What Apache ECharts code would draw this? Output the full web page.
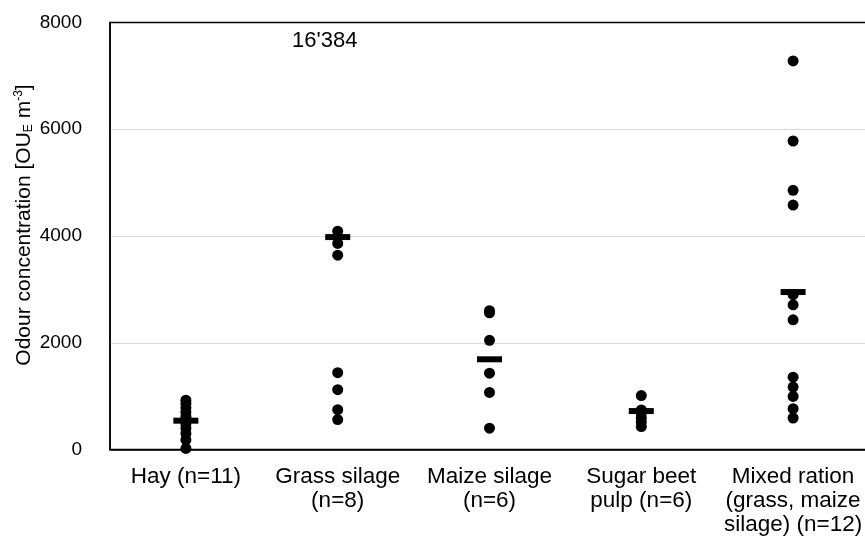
<!DOCTYPE html>
<html>
<head>
<meta charset="utf-8">
<script src="https://cdn.jsdelivr.net/npm/echarts@6/dist/echarts.min.js"></script>
<style>
html,body{margin:0;padding:0;background:#fff;}
#chart{width:865px;height:539px;}
</style>
</head>
<body>
<div id="chart"></div>
<script>
// ---- data ----
const categories = ['Hay (n=11)', 'Grass silage\n(n=8)', 'Maize silage\n(n=6)', 'Sugar beet\npulp (n=6)', 'Mixed ration\n(grass, maize\nsilage) (n=12)'];
const hay = [925, 860, 780, 700, 620, 560, 480, 400, 300, 180, 20];
const grass = [4090, 3860, 3640, 1440, 1120, 745, 560]; // + one off-scale value (16'384)
const maize = [2600, 2560, 2045, 1430, 1070, 400];
const sugar = [1010, 740, 680, 600, 520, 430];
const mixed = [7280, 5780, 4855, 4580, 2900, 2710, 2430, 1355, 1170, 995, 765, 590];
const means = [540, 3980, 1690, 720, 2950];
const offScaleLabel = "16'384";
const offScaleCategory = 1;
const offScaleLabelY = 7450;
const yTicks = [0, 2000, 4000, 6000, 8000];

const groups = [hay, grass, maize, sugar, mixed];
const pointData = [];
groups.forEach((g, i) => g.forEach(v => pointData.push([i, v])));
const meanData = means.map((v, i) => [i, v]);

const chart = echarts.init(document.getElementById('chart'), null, {renderer: 'canvas'});
const font = 'Liberation Sans, Arial, sans-serif';
chart.setOption({
  animation: false,
  backgroundColor: '#fff',
  grid: {left: 110, top: 22.5, width: 759, bottom: 89.5, show: true, borderColor: '#000', borderWidth: 1.5, backgroundColor: 'transparent', containLabel: false, outerBoundsMode: 'none'},
  xAxis: {
    type: 'category',
    data: categories,
    boundaryGap: true,
    axisLine: {show: true, lineStyle: {color: '#000', width: 1.5}},
    axisTick: {show: false},
    splitLine: {show: false},
    axisLabel: {color: '#000', fontFamily: font, fontSize: 22.5, lineHeight: 24, margin: 15, interval: 0, align: 'center'}
  },
  yAxis: {
    type: 'value',
    min: yTicks[0],
    max: yTicks[yTicks.length - 1],
    interval: 2000,
    axisLine: {show: true, lineStyle: {color: '#000', width: 1.5}},
    axisTick: {show: false},
    splitLine: {show: true, showMinLine: false, showMaxLine: false, lineStyle: {color: '#d9d9d9', width: 1}},
    axisLabel: {color: '#000', fontFamily: font, fontSize: 19, margin: 28, formatter: v => String(v)},
    name: '{n|Odour concentration [OU}{sub|E}{n| m}{sup|-3}{n|]}',
    nameLocation: 'middle',
    nameGap: 72,
    nameRotate: 90,
    nameMoveOverlap: false,
    nameTextStyle: {
      color: '#000', fontFamily: font, fontSize: 21, padding: [0, 0, 0, 22],
      rich: {
        n: {fontSize: 21, fontFamily: font, color: '#000', lineHeight: 28, verticalAlign: 'middle'},
        sub: {fontSize: 12, fontFamily: font, color: '#000', lineHeight: 28, verticalAlign: 'bottom', padding: [0, 0, 3, 0]},
        sup: {fontSize: 12, fontFamily: font, color: '#000', lineHeight: 28, verticalAlign: 'top', padding: [3, 0, 0, 0]}
      }
    }
  },
  series: [
    {
      type: 'scatter',
      data: pointData,
      symbol: 'circle',
      symbolSize: 11,
      itemStyle: {color: '#000', opacity: 1},
      z: 2
    },
    {
      type: 'scatter',
      data: meanData,
      symbol: 'rect',
      symbolSize: [25, 6],
      itemStyle: {color: '#000', opacity: 1},
      z: 3
    },
    {
      type: 'scatter',
      data: [[offScaleCategory, offScaleLabelY]],
      symbol: 'circle',
      symbolSize: 0.01,
      itemStyle: {color: '#000', opacity: 1},
      label: {show: true, position: 'top', distance: 0, formatter: offScaleLabel, color: '#000', opacity: 1, fontFamily: font, fontSize: 22, offset: [-13, 0]},
      z: 4
    }
  ]
});
</script>
</body>
</html>
